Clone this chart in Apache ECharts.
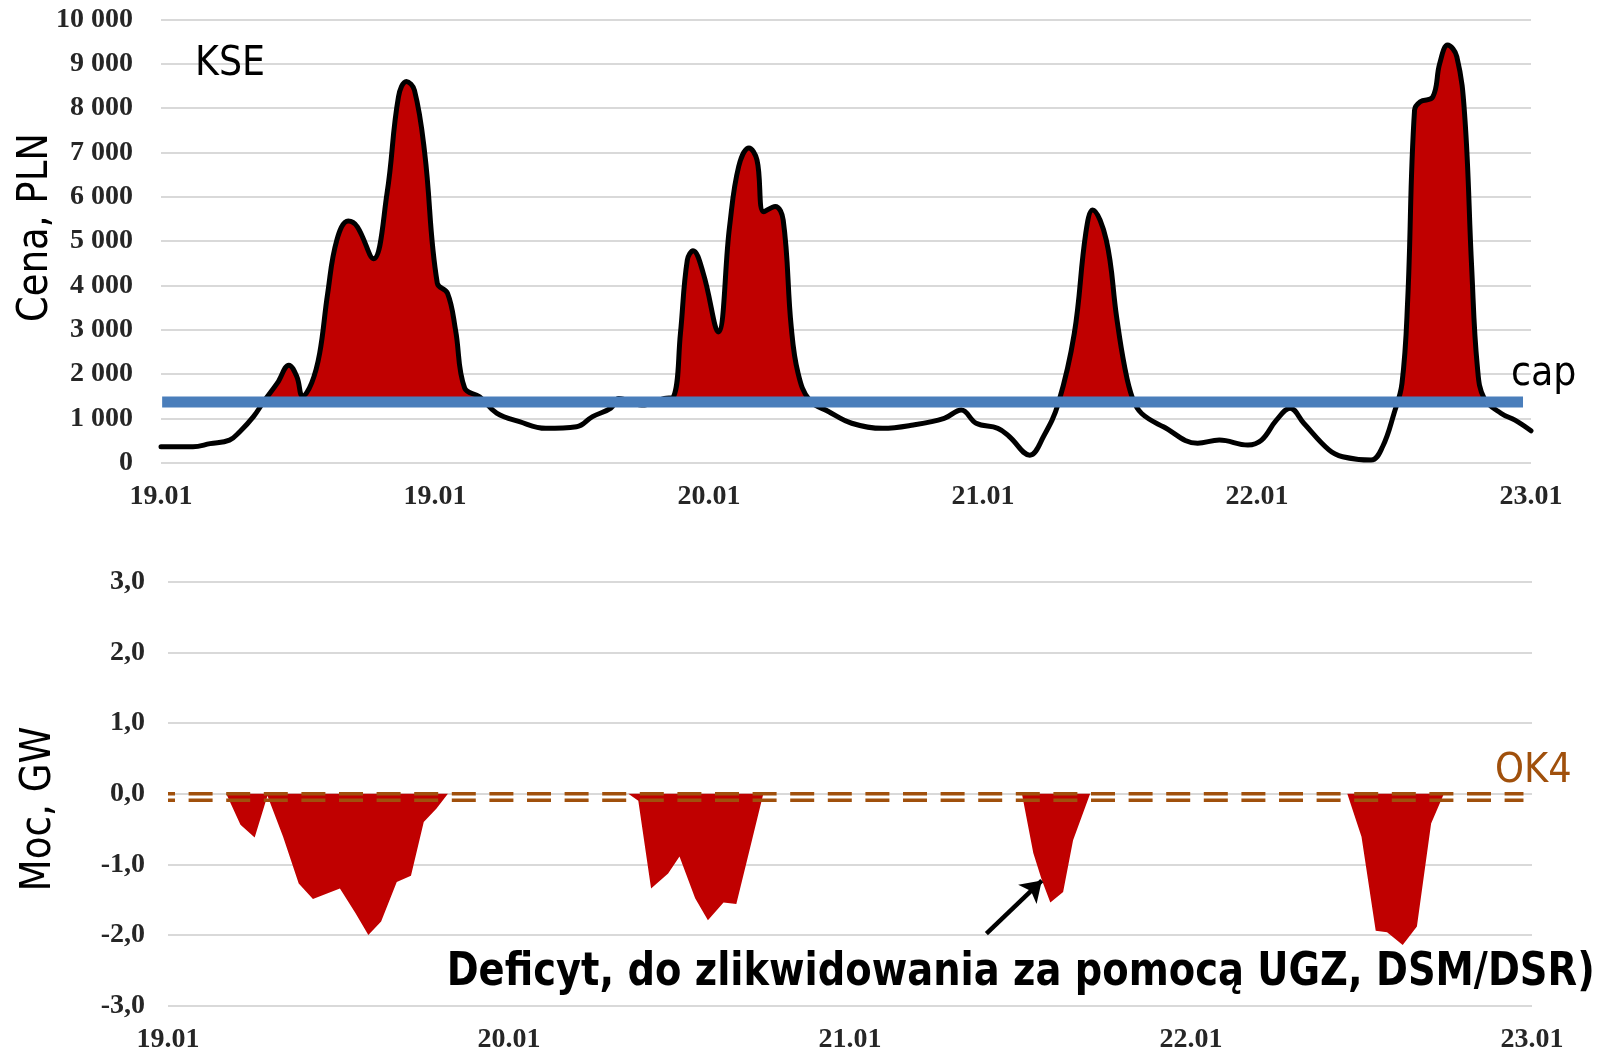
<!DOCTYPE html>
<html><head><meta charset="utf-8">
<script src="https://cdn.jsdelivr.net/npm/echarts@6/dist/echarts.min.js"></script>
<style>html,body{margin:0;padding:0;background:#fff}#c{width:1604px;height:1054px}</style>
</head><body><div id="c"></div>
<script>
// ---- data ----
const topDateLabels = ['19.01','19.01','20.01','21.01','22.01','23.01'];
const bottomDateLabels = ['19.01','20.01','21.01','22.01','23.01'];
// price curve (hours from start, PLN)
const priceHours = [0,2.8,4.3,6.0,6.9,8.1,9.0,10.2,11.2,11.9,12.4,13.2,13.9,14.6,15.4,16.4,17.2,18.6,19.8,20.8,21.5,22.2,23.1,24.2,25.1,25.8,26.6,27.9,29.4,31.4,33.7,36.4,37.8,39.4,40.1,42.1,44.1,44.9,45.5,46.1,46.6,47.5,48.8,49.8,50.6,51.5,52.2,52.8,53.8,54.5,55.2,55.8,56.8,58.5,60.5,63.2,65.9,68.6,70.1,71.4,73.3,74.3,76.1,77.3,78.6,80.0,81.0,81.6,82.8,83.7,84.4,85.1,85.9,87.8,90.8,92.7,95.2,96.4,97.7,98.9,100.1,102.3,103.5,106.0,107.0,108.0,108.7,109.2,109.8,110.3,111.4,112.0,112.7,113.5,114.2,114.8,115.3,115.9,117.4,118.6,120];
const priceValues = [360,360,430,510,700,1040,1380,1800,2200,1940,1500,1800,2470,3820,5020,5450,5320,4600,6080,8250,8600,8400,6980,4050,3820,2990,1680,1490,1120,925,775,810,1040,1230,1450,1300,1450,1490,2920,4570,4780,4270,2950,5320,6680,7100,6830,5660,5780,5470,3070,2020,1410,1150,890,775,850,1000,1190,890,775,590,170,590,1340,2920,5170,5700,5020,3290,2170,1450,1110,810,440,510,400,510,960,1230,890,290,135,60,360,1110,1790,3670,7950,8140,8250,9000,9420,9160,7800,4420,2170,1450,1110,960,720];
const capValue = 1370;
const capHours = [0.1, 119.3];
// deficit (hours from start, GW)
const deficitHours = [0,4.1,5.1,6.1,7.0,8.1,9.2,10.2,12.1,13.2,14.1,15.0,16.1,17.1,18.0,18.9,19.7,32.4,33.1,34.0,35.2,36.0,37.1,38.0,39.1,40.0,41.1,41.9,60.1,60.9,61.5,62.1,63.0,63.7,64.9,83.0,84.0,85.0,85.8,86.9,87.9,88.9,89.8,96];
const deficitValues = [0,0,-0.44,-0.62,-0.03,-0.61,-1.27,-1.49,-1.34,-1.69,-2.0,-1.81,-1.25,-1.16,-0.40,-0.21,0,0,-0.10,-1.34,-1.13,-0.89,-1.48,-1.79,-1.54,-1.56,-0.66,0,0,-0.84,-1.22,-1.54,-1.39,-0.66,0,0,-0.61,-1.94,-1.96,-2.14,-1.88,-0.42,0,0];
const ok4Levels = [0, -0.093];
const ok4Hours = [0, 95.4];
const arrowFrom = [57.6, -1.98];
const arrowTo = [61.5, -1.23];

// ---- helpers ----
const zip = (xs, ys) => xs.map((x, i) => [x, ys[i]]);
const mctx = document.createElement('canvas').getContext('2d');
function fit(text, size, weight, family, target) {
  mctx.font = weight + ' ' + size + 'px "' + family + '"';
  return target / mctx.measureText(text).width;
}
const SANS = 'DejaVu Sans';
const SERIF = 'Liberation Serif';
const brown = '#A0500C';
const tickLabel = {fontFamily: SERIF, fontSize: 28, fontWeight: 'bold', color: '#262626'};

function txt(text, x, y, size, opts) {
  opts = opts || {};
  const weight = opts.weight || 'normal';
  const s = opts.width ? fit(text, size, weight, SANS, opts.width) : 1;
  return {
    type: 'text', x: x, y: y, rotation: opts.rotation || 0, scaleX: s, z: 100,
    style: {text: text, fontSize: size, fontFamily: SANS, fontWeight: weight,
      fill: opts.color || '#000', align: opts.align || 'left', textAlign: opts.align || 'left',
      verticalAlign: 'middle', textVerticalAlign: 'middle'}
  };
}

const chart = echarts.init(document.getElementById('c'), null, {renderer: 'canvas'});
chart.setOption({
  animation: false,
  backgroundColor: '#fff',
  grid: [
    {left: 161, right: 73, top: 19.3, height: 443.4, outerBoundsMode: 'none', containLabel: false},
    {left: 168, right: 72, top: 581.7, height: 424, outerBoundsMode: 'none', containLabel: false}
  ],
  xAxis: [
    {gridIndex: 0, type: 'value', min: 0, max: 120, interval: 24,
      axisLine: {show: false}, axisTick: {show: false}, splitLine: {show: false},
      axisLabel: Object.assign({margin: 20, formatter: v => topDateLabels[Math.round(v / 24)]}, tickLabel)},
    {gridIndex: 1, type: 'value', min: 0, max: 96, interval: 24,
      axisLine: {show: false}, axisTick: {show: false}, splitLine: {show: false},
      axisLabel: Object.assign({margin: 20, formatter: v => bottomDateLabels[Math.round(v / 24)]}, tickLabel)}
  ],
  yAxis: [
    {gridIndex: 0, type: 'value', min: 0, max: 10000, interval: 1000,
      axisLine: {show: false}, axisTick: {show: false},
      splitLine: {lineStyle: {color: '#d9d9d9', width: 2}},
      axisLabel: Object.assign({margin: 28, formatter: v => v === 0 ? '0' : (v / 1000) + ' 000'}, tickLabel)},
    {gridIndex: 1, type: 'value', min: -3, max: 3, interval: 1,
      axisLine: {show: false}, axisTick: {show: false},
      splitLine: {lineStyle: {color: '#d9d9d9', width: 2}},
      axisLabel: Object.assign({margin: 23, formatter: v => v.toFixed(1).replace('.', ',')}, tickLabel)}
  ],
  visualMap: [{
    type: 'piecewise', show: false, seriesIndex: 0, dimension: 1,
    pieces: [{gte: 0, lte: capValue, color: 'rgba(192,0,0,0)'}, {gt: capValue, lte: 10000, color: '#C00000'}]
  }],
  series: [
    {type: 'line', xAxisIndex: 0, yAxisIndex: 0, data: zip(priceHours, priceValues),
      smooth: 0.4, symbol: 'none', lineStyle: {width: 0},
      areaStyle: {opacity: 1, origin: 'start'}, silent: true},
    {type: 'line', xAxisIndex: 0, yAxisIndex: 0, data: zip(priceHours, priceValues),
      smooth: 0.4, symbol: 'none',
      lineStyle: {width: 5, color: '#000', join: 'round', cap: 'round'}, itemStyle: {color: '#000'}, silent: true},
    {type: 'line', xAxisIndex: 0, yAxisIndex: 0, data: capHours.map(h => [h, capValue]),
      symbol: 'none', lineStyle: {width: 11, color: '#4A7EBB', cap: 'butt'}, silent: true},
    {type: 'line', xAxisIndex: 1, yAxisIndex: 1, data: zip(deficitHours, deficitValues),
      symbol: 'none', lineStyle: {width: 0}, itemStyle: {color: '#C00000'},
      areaStyle: {color: '#C00000', opacity: 1, origin: 'auto'}, silent: true,
      markLine: {silent: true, symbol: ['none', 'arrow'], symbolSize: 20,
        lineStyle: {color: '#000', width: 4.5, type: 'solid'}, label: {show: false},
        data: [[{coord: arrowFrom}, {coord: arrowTo}]]}},
    ...ok4Levels.map(lv => ({
      type: 'line', xAxisIndex: 1, yAxisIndex: 1, data: ok4Hours.map(h => [h, lv]),
      symbol: 'none', silent: true,
      lineStyle: {width: 3.5, color: brown, type: [24, 13.6], dashOffset: 17}
    }))
  ],
  graphic: [
    txt('KSE', 195, 64.4, 41, {width: 70}),
    txt('cap', 1511, 374.4, 41, {width: 65.5}),
    txt('OK4', 1495, 771, 41, {width: 76.7, color: brown}),
    txt('Cena, PLN', 35.7, 227.5, 42, {width: 189, align: 'center', rotation: Math.PI / 2}),
    txt('Moc, GW', 38.7, 809, 42, {width: 165, align: 'center', rotation: Math.PI / 2}),
    txt('Deficyt, do zlikwidowania za pomocą UGZ, DSM/DSR)', 446.7, 972.9, 46, {width: 1148, weight: 'bold'})
  ]
});
</script>
</body></html>
